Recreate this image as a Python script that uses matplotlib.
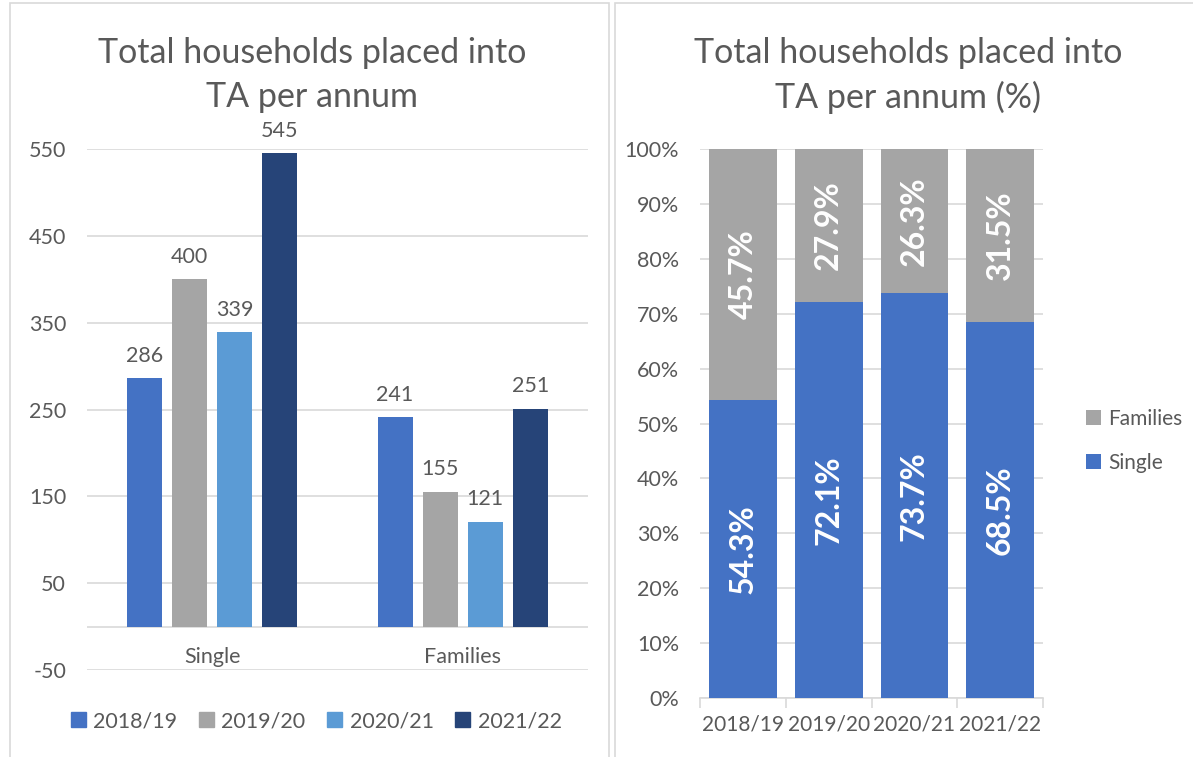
import matplotlib.pyplot as plt
from matplotlib.patches import Rectangle, Patch
import numpy as np

plt.rcParams['font.family'] = ['Lato', 'DejaVu Sans']
plt.rcParams['axes.unicode_minus'] = False

# left chart: counts
groups = ['Single', 'Families']
years = ['2018/19', '2019/20', '2020/21', '2021/22']
single_counts = [286, 400, 339, 545]
family_counts = [241, 155, 121, 251]
year_colors = ['#4472C4', '#A5A5A5', '#5B9BD5', '#264478']

# right chart: percentages
single_pct = [54.3, 72.1, 73.7, 68.5]
family_pct = [45.7, 27.9, 26.3, 31.5]

txt = '#595959'
grid = '#D9D9D9'
fs = 15.5

fig = plt.figure(figsize=(11.93, 7.57), dpi=100)

# panel frames
fig.patches.append(Rectangle((10/1193, -0.1), 599/1193, 1.1 - 3/757, transform=fig.transFigure,
                             fill=False, edgecolor=grid, lw=1.2))
fig.patches.append(Rectangle((615/1193, -0.1), 600/1193, 1.1 - 3/757, transform=fig.transFigure,
                             fill=False, edgecolor=grid, lw=1.2))

# ---- left: grouped bars ----
ax1 = fig.add_axes([0.0729, 0.115, 0.42, 0.688])
offsets = [-0.27, -0.09, 0.09, 0.27]
x = np.arange(len(groups))
for i, yr in enumerate(years):
    vals = [single_counts[i], family_counts[i]]
    bars = ax1.bar(x + offsets[i], vals, width=0.14, color=year_colors[i], zorder=3, label=yr)
    for b, v in zip(bars, vals):
        ax1.annotate(str(v), (b.get_x() + b.get_width() / 2, v), xytext=(0, 9),
                     textcoords='offset points', ha='center', va='bottom',
                     fontsize=fs, color=txt)
ax1.set_xlim(-0.5, 1.5)
ax1.set_ylim(-50, 550)
ax1.set_yticks(np.arange(-50, 551, 100))
ax1.grid(axis='y', color=grid, lw=1.2, zorder=0)
ax1.axhline(0, color=grid, lw=1.2, zorder=2)
ax1.set_xticks([])
for xi, g in zip(x, groups):
    ax1.text(xi, -35, g, ha='center', va='center', fontsize=fs, color=txt)
for s in ax1.spines.values():
    s.set_visible(False)
ax1.tick_params(axis='y', length=0, pad=15, labelsize=fs, labelcolor=txt)
fig.text(312/1193, 0.9005, 'Total households placed into\nTA per annum', fontsize=24.5,
         color=txt, ha='center', va='center', linespacing=1.45)
fig.legend(handles=[Patch(color=c, label=y) for c, y in zip(year_colors, years)],
           loc='center', bbox_to_anchor=(0.265, 0.047), ncol=4, frameon=False,
           fontsize=fs, handlelength=0.7, handleheight=0.7, handletextpad=0.35,
           columnspacing=1.0, labelcolor=txt)

# ---- right: 100% stacked ----
ax2 = fig.add_axes([0.5868, 0.0779, 0.2875, 0.7253])
xr = np.arange(len(years))
ax2.bar(xr, single_pct, width=0.79, color='#4472C4', zorder=3, label='Single')
ax2.bar(xr, family_pct, width=0.79, bottom=single_pct, color='#A5A5A5', zorder=3, label='Families')
for xi, s, f in zip(xr, single_pct, family_pct):
    ax2.text(xi, s / 2, f'{s}%', rotation=90, ha='center', va='center',
             color='white', fontsize=23, fontweight='bold', zorder=4)
    ax2.text(xi, s + f / 2, f'{f}%', rotation=90, ha='center', va='center',
             color='white', fontsize=23, fontweight='bold', zorder=4)
ax2.set_xlim(-0.5, 3.5)
ax2.set_ylim(0, 100)
ax2.set_yticks(np.arange(0, 101, 10))
ax2.set_yticklabels([f'{v}%' for v in range(0, 101, 10)])
ax2.grid(axis='y', color=grid, lw=1.2, zorder=0)
ax2.set_xticks(xr)
ax2.set_xticklabels(years)
ax2.set_xticks(np.arange(-0.5, 3.6, 1), minor=True)
ax2.tick_params(axis='x', which='major', length=0, pad=12, labelsize=15, labelcolor=txt)
ax2.tick_params(axis='x', which='minor', length=7, color=grid, width=1.2)
ax2.tick_params(axis='y', length=0, pad=15, labelsize=fs, labelcolor=txt)
for k in ['top', 'right', 'left']:
    ax2.spines[k].set_visible(False)
ax2.spines['bottom'].set_color(grid)
ax2.spines['bottom'].set_linewidth(1.2)
fig.text(908/1193, 0.9005, 'Total households placed into\nTA per annum (%)', fontsize=24.5,
         color=txt, ha='center', va='center', linespacing=1.45)
h, l = ax2.get_legend_handles_labels()
fig.legend(h[::-1], l[::-1], loc='center left', bbox_to_anchor=(0.895, 0.418), frameon=False,
           fontsize=15, handlelength=0.7, handleheight=0.7, handletextpad=0.35,
           labelspacing=1.15, labelcolor=txt)

fig.savefig('out.png', dpi=100)
